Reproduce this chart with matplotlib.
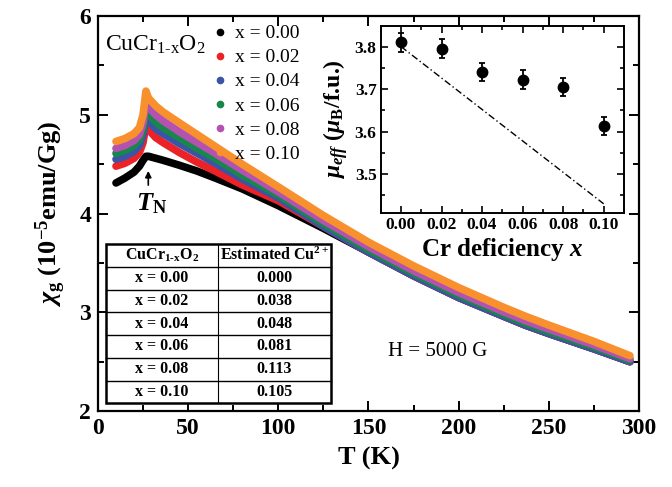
import matplotlib
matplotlib.use('Agg')
import matplotlib.pyplot as plt
from matplotlib.lines import Line2D
from matplotlib.ticker import MultipleLocator, FormatStrFormatter

plt.rcParams.update({
    'font.family': 'Liberation Serif',
    'mathtext.fontset': 'custom',
    'mathtext.rm': 'Liberation Serif:bold',
    'mathtext.it': 'Liberation Serif:italic:bold',
    'mathtext.bf': 'Liberation Serif:bold',
    'mathtext.sf': 'Liberation Serif',
})

# ---------------- data ----------------
T = [10, 15, 20, 23, 25, 26.6, 28, 32, 36, 45, 55, 65, 80, 100, 125, 150, 175,
     200, 225, 237, 250, 275, 295]
chi_000 = [4.31, 4.36, 4.42, 4.48, 4.54, 4.58, 4.58, 4.56, 4.54, 4.49, 4.43, 4.36,
           4.25, 4.08, 3.85, 3.61, 3.37, 3.15, 2.96, 2.87, 2.785, 2.63, 2.50]
chi_002 = [4.48, 4.51, 4.56, 4.62, 4.72, 4.90, 4.85, 4.77, 4.72, 4.62, 4.52, 4.43,
           4.29, 4.13, 3.87, 3.61, 3.37, 3.15, 2.96, 2.87, 2.785, 2.63, 2.50]
chi_004 = [4.55, 4.58, 4.63, 4.69, 4.80, 4.99, 4.94, 4.86, 4.81, 4.71, 4.61, 4.51,
           4.35, 4.16, 3.87, 3.61, 3.37, 3.15, 2.96, 2.87, 2.785, 2.63, 2.50]
chi_006 = [4.61, 4.64, 4.69, 4.75, 4.86, 5.07, 5.01, 4.93, 4.87, 4.77, 4.66, 4.56,
           4.39, 4.19, 3.90, 3.635, 3.395, 3.175, 2.98, 2.89, 2.805, 2.65, 2.515]
chi_008 = [4.66, 4.69, 4.74, 4.80, 4.92, 5.14, 5.08, 5.00, 4.94, 4.83, 4.72, 4.61,
           4.44, 4.22, 3.93, 3.665, 3.42, 3.20, 3.005, 2.915, 2.83, 2.67, 2.53]
chi_010 = [4.73, 4.76, 4.81, 4.87, 5.00, 5.24, 5.17, 5.09, 5.03, 4.92, 4.80, 4.68,
           4.50, 4.27, 3.98, 3.71, 3.47, 3.25, 3.05, 2.96, 2.87, 2.705, 2.56]
series = [chi_000, chi_002, chi_004, chi_006, chi_008, chi_010]
labels = ['x = 0.00', 'x = 0.02', 'x = 0.04', 'x = 0.06', 'x = 0.08', 'x = 0.10']
colors = ['#000000', '#ec2227', '#3b54a5', '#17884a', '#b352b1', '#f7902d']

table_x = ['x = 0.00', 'x = 0.02', 'x = 0.04', 'x = 0.06', 'x = 0.08', 'x = 0.10']
table_cu = ['0.000', '0.038', '0.048', '0.081', '0.113', '0.105']

cr_x = [0.00, 0.02, 0.04, 0.06, 0.08, 0.10]
mu_eff = [3.81, 3.795, 3.74, 3.722, 3.705, 3.613]
mu_err = [0.022, 0.022, 0.022, 0.022, 0.022, 0.022]
ref_x = [0.00, 0.10]
ref_mu = [3.80, 3.43]

HY = '\u2010'

# ---------------- figure ----------------
fig = plt.figure(figsize=(6.72, 4.87), dpi=100)
ax = fig.add_axes([0.1458, 0.156, 0.805, 0.811])

for y, c in zip(series, colors):
    ax.plot(T, y, color=c, lw=5.5, solid_capstyle='round', solid_joinstyle='round')

ax.set_xlim(0, 300)
ax.set_ylim(2, 6)
ax.xaxis.set_major_locator(MultipleLocator(50))
ax.xaxis.set_minor_locator(MultipleLocator(25))
ax.yaxis.set_major_locator(MultipleLocator(1))
ax.yaxis.set_minor_locator(MultipleLocator(0.5))
ax.tick_params(which='both', direction='in', top=True, right=True, width=1.4)
ax.tick_params(which='major', length=7, labelsize=17, pad=5)
ax.tick_params(which='minor', length=4)
for lab in ax.get_xticklabels() + ax.get_yticklabels():
    lab.set_fontweight('bold')
for s in ax.spines.values():
    s.set_linewidth(1.6)

ax.set_xlabel('T (K)', fontsize=19, fontweight='bold', labelpad=6)
ax.set_ylabel(r'$\chi_\mathbf{g}$ (10$^{\mathbf{-5}}$emu/Gg)', fontsize=19,
              fontweight='bold', labelpad=8)

# legend
handles = [Line2D([], [], marker='o', ls='none', color=c, markersize=4.5) for c in colors]
ax.legend(handles, labels, loc='upper left', bbox_to_anchor=(0.198, 1.0),
          frameon=False, fontsize=14, handlelength=0.6, handletextpad=0.5,
          labelspacing=0.33, borderpad=0.2, borderaxespad=0.25)

ax.text(0.013, 0.955, r'CuCr$_{\mathsf{1' + HY + r'x}}$O$_{\mathsf{2}}$',
        transform=ax.transAxes, fontsize=17, va='top', ha='left')

# T_N arrow
ax.annotate('', xy=(27.9, 4.46), xytext=(27.9, 4.26),
            arrowprops=dict(arrowstyle='-|>', color='black', lw=1.2, mutation_scale=9))
ax.text(30, 4.10, r'$T_\mathbf{N}$', fontsize=19, ha='center', va='center')

ax.text(160.8, 2.605, 'H = 5000 G', fontsize=15, ha='left', va='center')

# table
tx0, tx1, txm = 0.0148, 0.4307, 0.2218
ty_top, ty_bot = 0.4224, 0.0196
nrow = 7
rh = (ty_top - ty_bot) / nrow
tr = ax.transAxes
ax.add_patch(plt.Rectangle((tx0, ty_bot), tx1 - tx0, ty_top - ty_bot, transform=tr,
                           facecolor='white', edgecolor='black', lw=1.8, zorder=5))
for i in range(1, nrow):
    yy = ty_top - i * rh
    ax.plot([tx0, tx1], [yy, yy], transform=tr, color='black', lw=1.0, zorder=6)
ax.plot([txm, txm], [ty_bot, ty_top], transform=tr, color='black', lw=0.8, zorder=6)
hdr = [r'CuCr$_{\mathbf{1' + HY + r'x}}$O$_{\mathbf{2}}$', r'Estimated Cu$^{\mathbf{2+}}$']
for j, h in enumerate(hdr):
    cx = (tx0 + txm) / 2 if j == 0 else (txm + tx1) / 2
    ax.text(cx, ty_top - rh / 2, h, transform=tr, ha='center', va='center',
            fontsize=11.5, fontweight='bold', zorder=7)
for i, (a, b) in enumerate(zip(table_x, table_cu)):
    yy = ty_top - (i + 1.5) * rh
    ax.text((tx0 + txm) / 2, yy, a, transform=tr, ha='center', va='center',
            fontsize=11.5, fontweight='bold', zorder=7)
    ax.text((txm + tx1) / 2, yy, b, transform=tr, ha='center', va='center',
            fontsize=11.5, fontweight='bold', zorder=7)

# inset
ax2 = fig.add_axes([0.5665, 0.5632, 0.362, 0.384])
ax2.plot(ref_x, ref_mu, color='black', lw=1.0, ls=(0, (5, 2, 1, 2)))
ax2.errorbar(cr_x, mu_eff, yerr=mu_err, fmt='o', color='black', markersize=7.5,
             capsize=2.5, elinewidth=1.3, capthick=1.3)
ax2.set_xlim(-0.01, 0.11)
ax2.set_ylim(3.409, 3.849)
ax2.xaxis.set_major_locator(MultipleLocator(0.02))
ax2.xaxis.set_minor_locator(MultipleLocator(0.01))
ax2.yaxis.set_major_locator(MultipleLocator(0.1))
ax2.yaxis.set_minor_locator(MultipleLocator(0.05))
ax2.xaxis.set_major_formatter(FormatStrFormatter('%.2f'))
ax2.yaxis.set_major_formatter(FormatStrFormatter('%.1f'))
ax2.tick_params(which='both', direction='in', top=True, right=True, width=1.2)
ax2.tick_params(which='major', length=5, labelsize=12.5, pad=3)
ax2.tick_params(which='minor', length=3)
for lab in ax2.get_xticklabels() + ax2.get_yticklabels():
    lab.set_fontweight('bold')
for s in ax2.spines.values():
    s.set_linewidth(1.4)
ax2.set_xlabel(r'Cr deficiency $x$', fontsize=18, fontweight='bold', labelpad=2)
ax2.set_ylabel(r'$\mu_{eff}$ ($\mu_\mathbf{B}$/f.u.)', fontsize=17, fontweight='bold',
               labelpad=3)

fig.savefig('out.png', dpi=100)
